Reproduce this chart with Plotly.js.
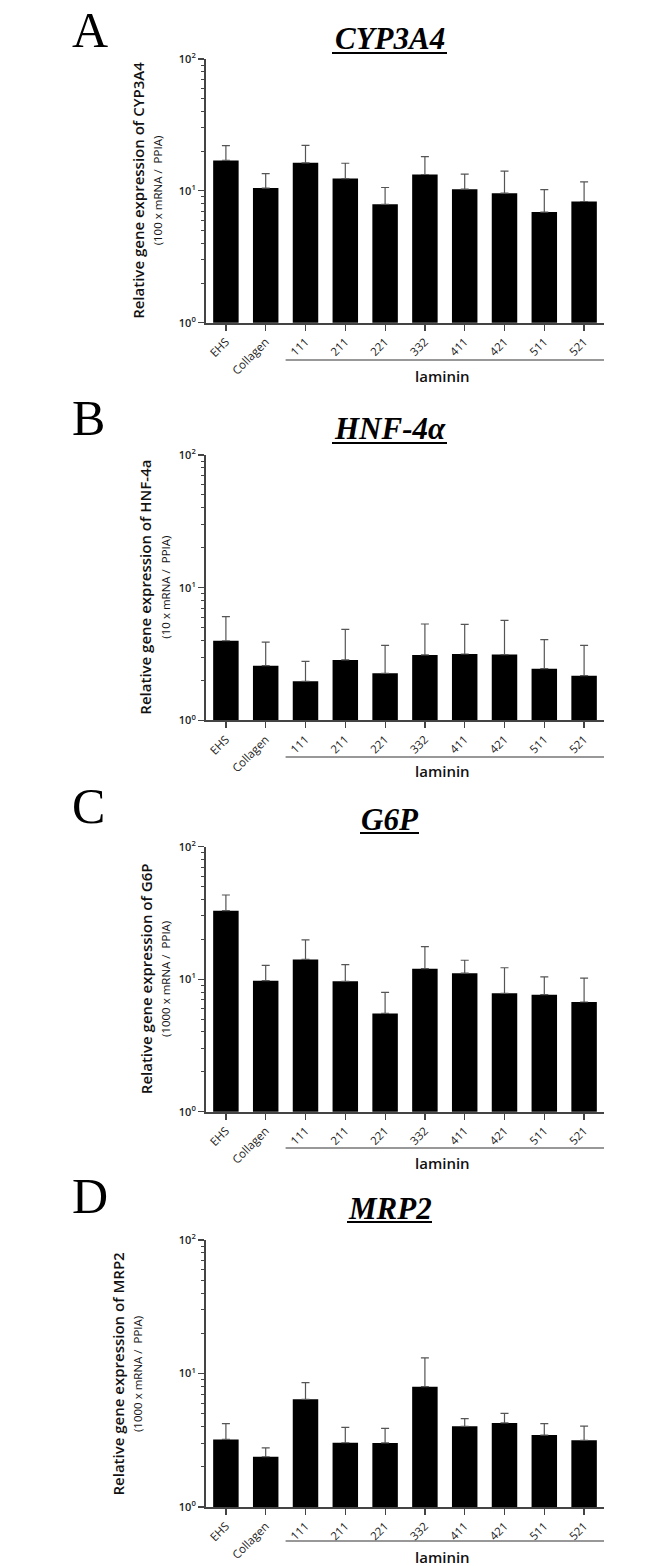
<!DOCTYPE html>
<html>
<head>
<meta charset="utf-8">
<script src="https://cdn.plot.ly/plotly-3.0.1.min.js"></script>
<style>
html,body{margin:0;padding:0;background:#fff;}
#chart{width:669px;height:1566px;}
</style>
</head>
<body>
<div id="chart"></div>
<script>
// ---- data ----
const categories = ['EHS','Collagen','111','211','221','332','411','421','511','521'];
const cyp3a4Mean = [17.0,10.5,16.3,12.4,7.9,13.3,10.3,9.6,6.9,8.3];
const cyp3a4Err  = [5.0,3.0,5.8,3.8,2.7,4.9,3.1,4.5,3.3,3.4];
const hnf4aMean  = [3.98,2.58,1.97,2.85,2.26,3.11,3.16,3.13,2.45,2.17];
const hnf4aErr   = [2.06,1.31,0.81,2.0,1.41,2.21,2.13,2.54,1.61,1.5];
const g6pMean    = [32.9,9.75,14.1,9.63,5.52,12.0,11.1,7.82,7.64,6.73];
const g6pErr     = [10.3,2.95,5.7,3.27,2.44,5.6,2.8,4.38,2.76,3.47];
const mrp2Mean   = [3.21,2.38,6.40,3.03,3.02,7.97,4.02,4.26,3.46,3.16];
const mrp2Err    = [1.0,0.39,2.14,0.92,0.86,5.13,0.57,0.77,0.75,0.88];
const panelLetters = ['A','B','C','D'];
const geneTitles = ['CYP3A4','HNF-4α','G6P','MRP2'];
const yTitleMain = ['Relative gene expression of CYP3A4','Relative gene expression of HNF-4a','Relative gene expression of G6P','Relative gene expression of MRP2'];
const yTitleSub = ['(100 x mRNA /  PPIA)','(10 x mRNA /  PPIA)','(1000 x mRNA /  PPIA)','(1000 x mRNA /  PPIA)'];
const yTickVals = [1,10,100];
const yTickText = ['10<sup>0</sup>','10<sup>1</sup>','10<sup>2</sup>'];
const minorVals = [2,3,4,5,6,7,8,9,20,30,40,50,60,70,80,90];
const groupLabel = 'laminin';

const means = [cyp3a4Mean,hnf4aMean,g6pMean,mrp2Mean];
const errs = [cyp3a4Err,hnf4aErr,g6pErr,mrp2Err];

// ---- layout geometry (pixels) ----
const W = 669, H = 1566;
const px = v => v / W;
const py = v => 1 - v / H;
const plotX = [206, 604];
const panels = [
  {top:59,  bot:322.7, letterY:30,   titleY:39,   ulY:53,   ulX:[332,447], yTitleX:147, lamY:360,  lamTextY:376},
  {top:455, bot:720.3, letterY:418,  titleY:429,  ulY:443,  ulX:[332,447], yTitleX:154, lamY:757,  lamTextY:771},
  {top:846.7,bot:1111.7,letterY:806, titleY:819,  ulY:833,  ulX:[360,419], yTitleX:154, lamY:1148, lamTextY:1163},
  {top:1240,bot:1507, letterY:1196,  titleY:1208, ulY:1222, ulX:[347,432], yTitleX:126, lamY:1541, lamTextY:1557}
];

const axisColor = '#444';
const data = [];
const layout = {
  width: W, height: H,
  margin: {l:0, r:0, t:0, b:0},
  paper_bgcolor: '#fff', plot_bgcolor: '#fff',
  showlegend: false,
  annotations: [], shapes: []
};

panels.forEach((p, i) => {
  const n = i === 0 ? '' : String(i + 1);
  data.push({
    type: 'bar',
    x: categories.map((c, k) => k),
    y: means[i],
    xaxis: 'x' + n, yaxis: 'y' + n,
    width: 0.64,
    marker: {color: '#000', line: {width: 0}},
    error_y: {type: 'data', symmetric: false, array: errs[i], arrayminus: errs[i].map(() => 0),
              color: '#555', thickness: 1.2, width: 4},
    hoverinfo: 'skip'
  });
  layout['xaxis' + n] = {
    domain: [px(plotX[0]), px(plotX[1])],
    anchor: 'y' + n,
    range: [-0.5, 9.5],
    tickmode: 'array',
    tickvals: categories.map((c, k) => k),
    ticktext: categories,
    tickangle: -45,
    ticks: 'outside', ticklen: 6, tickwidth: 1.2, tickcolor: axisColor,
    showline: true, linecolor: axisColor, linewidth: 2,
    showgrid: false, zeroline: false,
    tickfont: {family: 'Open Sans, sans-serif', size: 11.5, color: '#222'},
    fixedrange: true
  };
  layout['yaxis' + n] = {
    domain: [py(p.bot), py(p.top)],
    anchor: 'x' + n,
    type: 'log',
    range: [0, 2],
    tickmode: 'array',
    tickvals: yTickVals,
    ticktext: yTickText,
    ticks: 'outside', ticklen: 6, tickwidth: 1.2, tickcolor: axisColor,
    minor: {tickmode: 'array', tickvals: minorVals, ticks: 'outside', ticklen: 3, tickwidth: 1, tickcolor: axisColor, showgrid: false},
    showline: true, linecolor: axisColor, linewidth: 2,
    showgrid: false, zeroline: false,
    tickfont: {family: 'Open Sans, sans-serif', size: 11, color: '#222', weight: 600},
    fixedrange: true
  };
  // panel letter
  layout.annotations.push({
    xref: 'paper', yref: 'paper', x: px(70), y: py(p.letterY),
    xanchor: 'left', yanchor: 'middle', showarrow: false,
    text: panelLetters[i],
    font: {family: 'Liberation Serif, serif', size: 50, color: '#000'}
  });
  // gene title
  layout.annotations.push({
    xref: 'paper', yref: 'paper', x: px(389.5), y: py(p.titleY),
    xanchor: 'center', yanchor: 'middle', showarrow: false,
    text: '<b><i>' + geneTitles[i] + '</i></b>',
    font: {family: 'Liberation Serif, serif', size: 31, color: '#000'}
  });
  layout.shapes.push({
    type: 'line', xref: 'paper', yref: 'paper',
    x0: px(p.ulX[0]), x1: px(p.ulX[1]), y0: py(p.ulY), y1: py(p.ulY),
    line: {color: '#000', width: 2}
  });
  // y axis title (two lines, rotated)
  layout.annotations.push({
    xref: 'paper', yref: 'paper', x: px(p.yTitleX), y: py((p.top + p.bot) / 2),
    xanchor: 'center', yanchor: 'middle', showarrow: false, textangle: -90,
    text: '<span style="font-size:15px;font-weight:600">' + yTitleMain[i] + '</span><br><span style="font-size:11.5px">' + yTitleSub[i] + '</span>',
    font: {family: 'Open Sans, sans-serif', size: 14, color: '#111'}
  });
  // laminin group line and label
  layout.shapes.push({
    type: 'line', xref: 'x' + n, yref: 'paper',
    x0: 1.5, x1: 9.5, y0: py(p.lamY), y1: py(p.lamY),
    line: {color: '#333', width: 1.2}
  });
  layout.annotations.push({
    xref: 'paper', yref: 'paper', x: px(443), y: py(p.lamTextY),
    xanchor: 'center', yanchor: 'middle', showarrow: false,
    text: groupLabel,
    font: {family: 'Open Sans, sans-serif', size: 15, color: '#111', weight: 600}
  });
});

Plotly.newPlot('chart', data, layout, {displayModeBar: false, staticPlot: true});
</script>
</body>
</html>
